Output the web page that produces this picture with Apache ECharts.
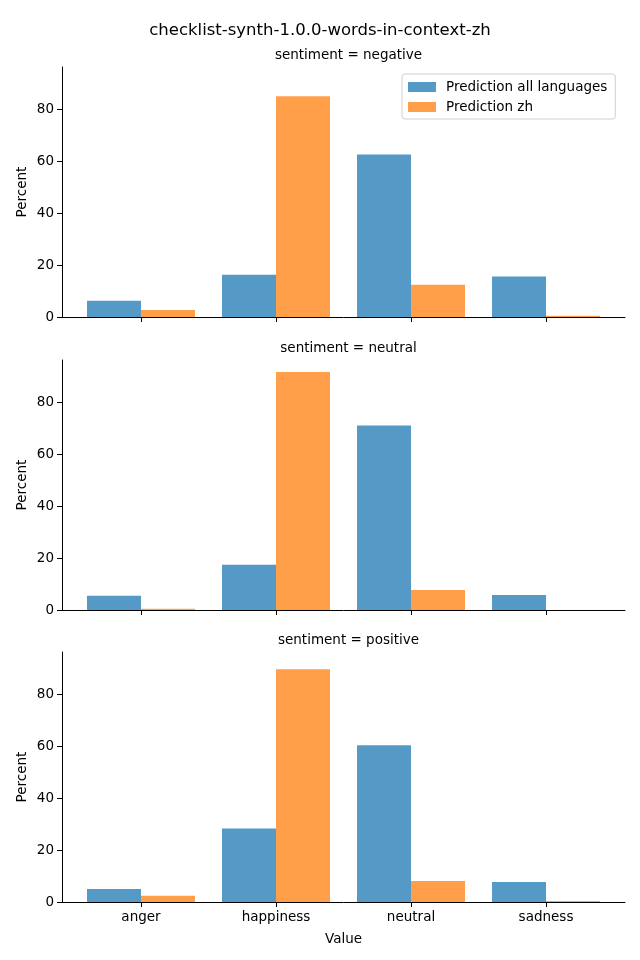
<!DOCTYPE html>
<html>
<head>
<meta charset="utf-8">
<script src="https://cdn.jsdelivr.net/npm/echarts@6/dist/echarts.min.js"></script>
<style>
html,body{margin:0;padding:0;background:#fff;}
#chart{width:640px;height:960px;}
</style>
</head>
<body>
<div id="chart"></div>
<script>
// ---- data ----
const mainTitle = 'checklist-synth-1.0.0-words-in-context-zh';
const categories = ['anger', 'happiness', 'neutral', 'sadness'];
const panelTitles = ['sentiment = negative', 'sentiment = neutral', 'sentiment = positive'];
const seriesNames = ['Prediction all languages', 'Prediction zh'];
const allNegative = [6.3, 16.3, 62.5, 15.6];
const zhNegative = [2.7, 84.9, 12.4, 0.5];
const allNeutral = [5.5, 17.4, 71.0, 5.8];
const zhNeutral = [0.5, 91.6, 7.7, 0.0];
const allPositive = [5.0, 28.3, 60.3, 7.7];
const zhPositive = [2.4, 89.6, 8.1, 0.4];
const yTicks = [0, 20, 40, 60, 80];
const yMax = 96.2;

const panelData = [[allNegative, zhNegative], [allNeutral, zhNeutral], [allPositive, zhPositive]];

// ---- layout/style ----
const FONT = 'DejaVu Sans';
const colors = ['#5599c6', '#ff9f4a'];
const gridTops = [67, 360, 652];
const gridH = 250;
const gridLeft = 62, gridRight = 15;
const axisCenter = 343.5;

const grids = [], xAxes = [], yAxes = [], series = [];
const titles = [{
  text: mainTitle, left: 'center', top: 17,
  textStyle: {fontFamily: FONT, fontSize: 16.5, fontWeight: 'normal', color: '#000'}
}];

panelTitles.forEach((t, p) => {
  grids.push({left: gridLeft, right: gridRight, top: gridTops[p], height: gridH});
  titles.push({
    text: t, left: axisCenter, top: gridTops[p] - 24, textAlign: 'center',
    textStyle: {fontFamily: FONT, fontSize: 13.5, fontWeight: 'normal', color: '#000'}
  });
  const last = p === panelTitles.length - 1;
  xAxes.push({
    type: 'value', gridIndex: p, min: -0.585, max: 3.585,
    axisLine: {show: true, onZero: false, lineStyle: {color: '#000', width: 1}},
    axisTick: {show: true, length: 5, customValues: [0, 1, 2, 3], lineStyle: {color: '#000'}},
    axisLabel: {show: last, customValues: [0, 1, 2, 3], margin: 8,
      formatter: v => categories[Math.round(v)],
      fontFamily: FONT, fontSize: 13.5, color: '#000'},
    splitLine: {show: false},
    name: last ? 'Value' : '', nameLocation: 'middle', nameGap: 30,
    nameTextStyle: {fontFamily: FONT, fontSize: 13.5, color: '#000'}
  });
  yAxes.push({
    type: 'value', gridIndex: p, min: 0, max: yMax,
    axisLine: {show: true, onZero: false, lineStyle: {color: '#000', width: 1}},
    axisTick: {show: true, length: 5, customValues: yTicks, lineStyle: {color: '#000'}},
    axisLabel: {customValues: yTicks, margin: 8, fontFamily: FONT, fontSize: 13.5, color: '#000'},
    splitLine: {show: false},
    name: 'Percent', nameLocation: 'middle', nameGap: 33, nameRotate: 90,
    nameMoveOverlap: false,
    nameTextStyle: {fontFamily: FONT, fontSize: 13.5, color: '#000'}
  });
  panelData[p].forEach((arr, s) => {
    series.push({
      type: 'bar', name: seriesNames[s], xAxisIndex: p, yAxisIndex: p,
      data: categories.map((c, i) => [i, arr[i]]),
      barWidth: 54, barGap: '0%',
      itemStyle: {color: colors[s]},
      emphasis: {disabled: true},
      animation: false
    });
  });
});

const chart = echarts.init(document.getElementById('chart'), null, {renderer: 'canvas'});
chart.setOption({
  animation: false,
  backgroundColor: '#fff',
  title: titles,
  grid: grids,
  xAxis: xAxes,
  yAxis: yAxes,
  legend: {
    data: seriesNames, orient: 'vertical', left: 402, top: 74,
    itemWidth: 28, itemHeight: 10, itemGap: 6,
    padding: [6, 8, 5, 6],
    borderColor: '#d0d0d0', borderWidth: 1, borderRadius: 3,
    backgroundColor: 'rgba(255,255,255,0.8)',
    textStyle: {fontFamily: FONT, fontSize: 13.5, color: '#000', padding: [0, 0, 0, 5]},
    icon: 'rect'
  },
  series: series
});
</script>
</body>
</html>
